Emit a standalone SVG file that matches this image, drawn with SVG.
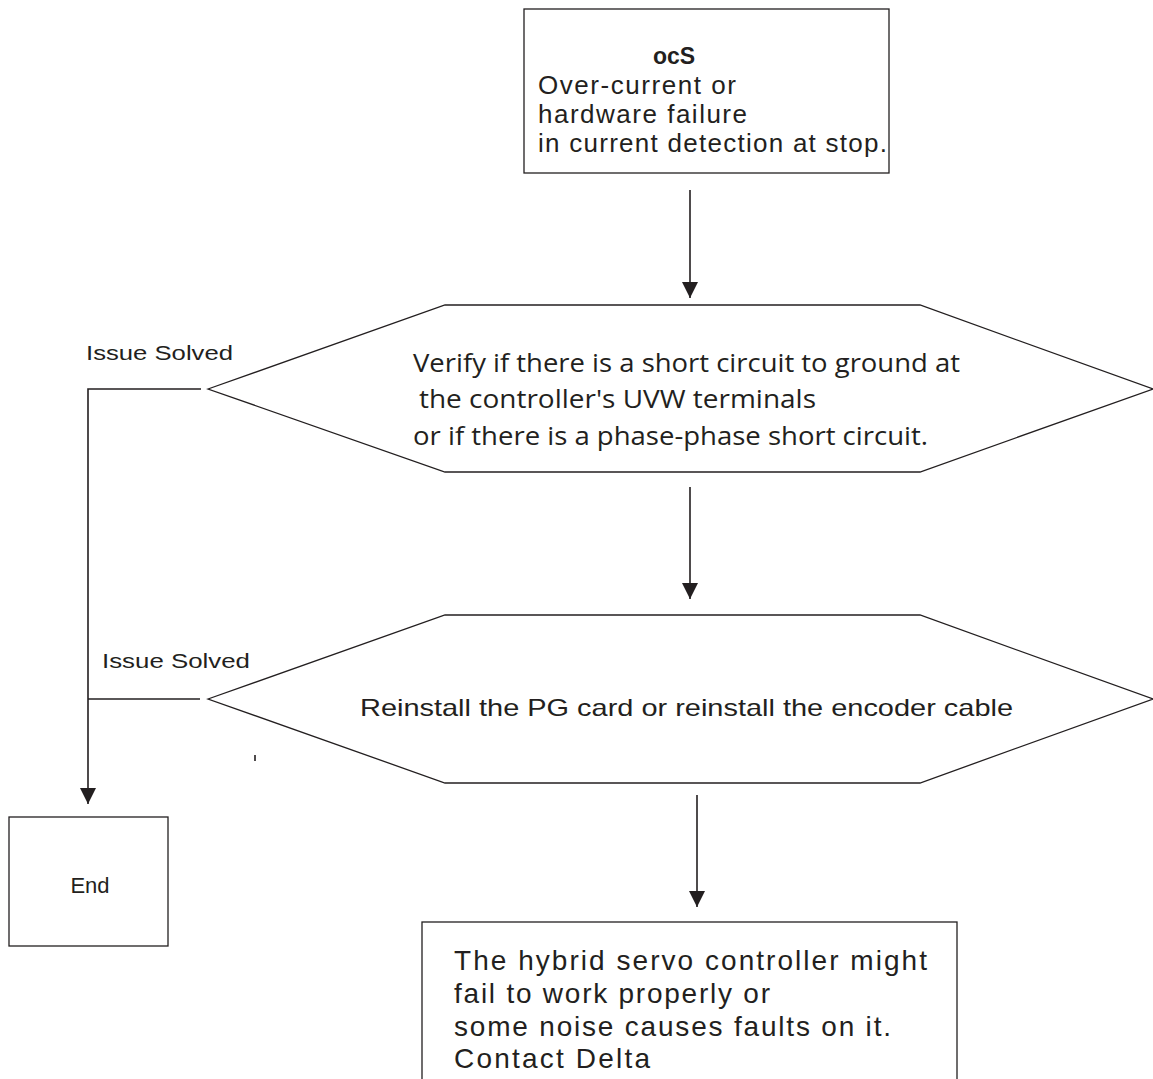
<svg xmlns="http://www.w3.org/2000/svg" width="1153" height="1079" viewBox="0 0 1153 1079">
<style>
.shape{fill:#fff;stroke:#231f20;stroke-width:1.3}
.line{fill:none;stroke:#231f20;stroke-width:1.6}
.t{font-family:"Liberation Sans",Arial,sans-serif;fill:#231f20}
.h{font-family:"Open Sans","Noto Sans",sans-serif;fill:#231f20}
</style>
<defs>
<marker id="ah" markerWidth="16" markerHeight="17" refX="16" refY="8" orient="auto" markerUnits="userSpaceOnUse" viewBox="0 0 16 16">
<path d="M0,0 L16,8 L0,16 Z" fill="#231f20"/>
</marker>
</defs>
<g id="connectors">
<line class="line" x1="690" y1="190" x2="690" y2="298" marker-end="url(#ah)"/>
<line class="line" x1="690" y1="487" x2="690" y2="599" marker-end="url(#ah)"/>
<line class="line" x1="697" y1="795" x2="697" y2="907" marker-end="url(#ah)"/>
<polyline class="line" points="201,389 88,389 88,804" marker-end="url(#ah)"/>
<line class="line" x1="200" y1="699" x2="88" y2="699"/>
<line class="line" x1="255" y1="755" x2="255" y2="761" stroke-width="1.2"/>
<text class="t" x="86" y="360" font-size="21" textLength="147" lengthAdjust="spacingAndGlyphs">Issue Solved</text>
<text class="t" x="102" y="668" font-size="21" textLength="148" lengthAdjust="spacingAndGlyphs">Issue Solved</text>
</g>
<g id="start">
<rect class="shape" x="524" y="9" width="365" height="164"/>
<text class="t" x="674" y="64" font-size="23" font-weight="bold" text-anchor="middle">ocS</text>
<text class="t" x="538" y="94" font-size="26" textLength="198" lengthAdjust="spacing">Over-current or</text>
<text class="t" x="538" y="123" font-size="26" textLength="209" lengthAdjust="spacing">hardware failure</text>
<text class="t" x="538" y="152" font-size="26" textLength="349" lengthAdjust="spacing">in current detection at stop.</text>
</g>
<g id="check1">
<polygon class="shape" points="208,389 445,305 920,305 1153,389 920,472 445,472"/>
<text class="h" x="413" y="372" font-size="25" textLength="547" lengthAdjust="spacingAndGlyphs">Verify if there is a short circuit to ground at</text>
<text class="h" x="419" y="408" font-size="25" textLength="397" lengthAdjust="spacingAndGlyphs">the controller's UVW terminals</text>
<text class="h" x="413" y="445" font-size="25" textLength="515" lengthAdjust="spacingAndGlyphs">or if there is a phase-phase short circuit.</text>
</g>
<g id="check2">
<polygon class="shape" points="208,699 445,615 920,615 1153,699 920,783 445,783"/>
<text class="t" x="360" y="716" font-size="24" textLength="653" lengthAdjust="spacingAndGlyphs">Reinstall the PG card or reinstall the encoder cable</text>
</g>
<g id="end">
<rect class="shape" x="9" y="817" width="159" height="129"/>
<text class="t" x="90" y="893" font-size="22" text-anchor="middle">End</text>
</g>
<g id="contact">
<rect class="shape" x="422" y="922" width="535" height="170"/>
<text class="t" x="454" y="970" font-size="28" textLength="473" lengthAdjust="spacing">The hybrid servo controller might</text>
<text class="t" x="454" y="1003" font-size="28" textLength="316" lengthAdjust="spacing">fail to work properly or</text>
<text class="t" x="454" y="1036" font-size="28" textLength="437" lengthAdjust="spacing">some noise causes faults on it.</text>
<text class="t" x="454" y="1068" font-size="28" textLength="196" lengthAdjust="spacing">Contact Delta</text>
</g>
</svg>
